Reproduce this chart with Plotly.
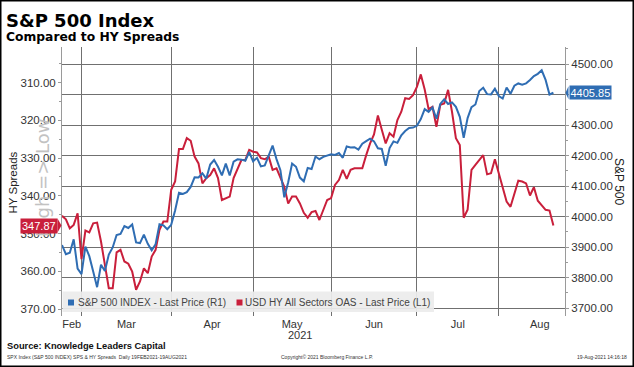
import plotly.graph_objects as go
import pandas as pd

# ---------------- data ----------------
DATES = pd.bdate_range("2021-02-19", "2021-08-19", freq="C",
                       holidays=["2021-04-02", "2021-05-31", "2021-07-05"])

SPX = [
    # Feb
    3906.71, 3876.50, 3881.37, 3925.43, 3829.34, 3811.15,
    # Mar
    3901.82, 3870.29, 3819.72, 3768.47, 3841.94, 3821.35, 3875.44, 3898.81,
    3939.34, 3943.34, 3968.94, 3962.71, 3974.12, 3915.46, 3913.10, 3940.59,
    3910.52, 3889.14, 3909.52, 3974.54, 3971.09, 3958.55, 3972.89,
    # Apr
    4019.87, 4077.91, 4073.94, 4079.95, 4097.17, 4128.80, 4127.99, 4141.59,
    4124.66, 4170.42, 4185.47, 4163.26, 4134.94, 4173.42, 4134.98, 4180.17,
    4187.62, 4186.72, 4183.18, 4211.47, 4181.17,
    # May
    4192.66, 4164.66, 4167.59, 4201.62, 4232.60, 4188.43, 4152.10, 4063.04,
    4112.50, 4173.85, 4163.29, 4127.83, 4115.68, 4159.12, 4155.86, 4197.05,
    4188.13, 4195.99, 4200.88, 4204.11,
    # Jun
    4202.04, 4208.12, 4192.85, 4229.89, 4226.52, 4227.26, 4219.55, 4239.18,
    4247.44, 4255.15, 4246.59, 4223.70, 4221.86, 4166.45, 4224.79, 4246.44,
    4241.84, 4266.49, 4280.70, 4290.61, 4291.80, 4297.50,
    # Jul
    4319.94, 4352.34, 4343.54, 4358.13, 4320.82, 4369.55, 4384.63, 4369.21,
    4374.30, 4360.03, 4327.16, 4258.49, 4323.06, 4358.69, 4367.48, 4411.79,
    4422.30, 4401.46, 4400.64, 4419.15, 4395.26,
    # Aug
    4387.16, 4423.15, 4402.66, 4429.10, 4436.52, 4432.35, 4436.75, 4447.70,
    4460.83, 4468.00, 4479.71, 4448.08, 4400.27, 4405.85,
]

HY_OAS = [
    # Feb
    345.3, 346.2, 348.6, 347.7, 344.6, 356.8,
    # Mar
    349.2, 349.7, 347.3, 347.1, 352.1, 358.8, 364.5, 364.5, 355.0, 354.3,
    357.4, 358.0, 360.1, 364.9, 362.7, 359.2, 360.5, 356.1, 354.3, 349.0,
    346.8, 346.8, 338.4,
    # Apr
    336.2, 327.6, 327.6, 324.7, 325.4, 329.6, 331.4, 336.7, 335.3, 334.5,
    332.7, 335.3, 341.1, 340.6, 340.2, 335.3, 333.1, 330.5, 330.5, 327.8,
    328.3,
    # May
    328.5, 330.0, 330.3, 329.6, 333.1, 332.7, 335.3, 337.6, 342.0, 340.2,
    340.2, 342.0, 344.5, 345.8, 344.3, 344.0, 346.4, 343.7, 341.1, 340.6,
    # Jun
    337.1, 335.8, 333.1, 335.5, 333.1, 332.7, 332.7, 332.7, 329.2, 326.1,
    323.7, 318.7, 322.5, 326.1, 323.4, 324.3, 319.9, 317.7, 314.1, 314.3,
    313.3, 311.1,
    # Jul
    307.8, 311.8, 317.0, 316.4, 321.7, 315.9, 315.5, 311.9, 317.7, 324.7,
    326.5, 345.8, 343.7, 333.1, 331.8, 330.5, 329.2, 334.3, 334.0, 330.3,
    334.0,
    # Aug
    338.0, 341.5, 342.9, 339.3, 336.0, 336.2, 336.7, 339.9, 337.7, 341.3,
    342.6, 343.7, 343.9, 347.87,
]

MONTH_LABELS = ["Feb", "Mar", "Apr", "May", "Jun", "Jul", "Aug"]
LEFT_TICKS = [310, 320, 330, 340, 350, 360, 370]
RIGHT_TICKS = [3700, 3800, 3900, 4000, 4100, 4200, 4300, 4400, 4500]

SPX_NAME = "S&P 500 INDEX - Last Price (R1)"
HY_NAME = "USD HY All Sectors OAS - Last Price (L1)"

assert len(DATES) == len(SPX) == len(HY_OAS)

# ---------------- layout helpers (pixel geometry) ----------------
W, H = 634, 367
PL, PR, PT, PB = 62, 565, 47, 316          # plot area in px
PX_PER_DAY = 3.9

def px(xp):
    return (xp - PL) / (PR - PL)

def py(yp):
    return (PB - yp) / (PB - PT)

BLUE = "#2f6db3"
RED = "#c91f3b"
GRID = "#707070"
AXIS = "#9a9a9a"
TXT = "#333333"

n = len(DATES)
xi = list(range(n))
months = list(DATES.month)
bounds = [i - 1 for i in range(1, n) if months[i] != months[i - 1]]
edges = [0] + bounds
label_pos = []
for k in range(len(edges)):
    if k + 1 < len(edges):
        label_pos.append((edges[k] + edges[k + 1]) / 2)
    else:
        label_pos.append(edges[k] + 10.5)

left_rng = [371.85, 300.54]
right_rng = [3674, 4556]

last_hy = HY_OAS[-1]
last_spx = SPX[-1]

fig = go.Figure()
fig.add_trace(go.Scatter(
    x=xi, y=HY_OAS, mode="lines", name=HY_NAME, yaxis="y",
    line=dict(color=RED, width=2), customdata=[d.strftime("%d-%b-%Y") for d in DATES],
    hovertemplate="%{customdata}: %{y:.2f}<extra></extra>", showlegend=False))
fig.add_trace(go.Scatter(
    x=xi, y=SPX, mode="lines", name=SPX_NAME, yaxis="y2",
    line=dict(color=BLUE, width=2), customdata=[d.strftime("%d-%b-%Y") for d in DATES],
    hovertemplate="%{customdata}: %{y:.2f}<extra></extra>", showlegend=False))

left_minor = [v + 5 for v in LEFT_TICKS[:-1]] + [305]
right_minor = [v + 50 for v in RIGHT_TICKS[:-1]] + [4550]
# the last-value tag hides the tick label it sits on
right_text = ["" if abs(v - last_spx) < 30 else f"{v:.2f}" for v in RIGHT_TICKS]

fig.update_layout(
    width=W, height=H,
    margin=dict(l=PL, r=W - PR, t=PT, b=H - PB, pad=0),
    paper_bgcolor="white", plot_bgcolor="white",
    showlegend=False,
    font=dict(family="Liberation Sans", size=11, color=TXT),
    xaxis=dict(
        range=[0, (PR - PL) / PX_PER_DAY],
        tickmode="array", tickvals=label_pos, ticktext=MONTH_LABELS,
        ticks="", showgrid=False, zeroline=False, showline=False,
        tickfont=dict(family="Liberation Sans", size=11, color=TXT),
        minor=dict(tickmode="array", tickvals=bounds, showgrid=True,
                   gridcolor=GRID, gridwidth=1.3, ticks=""),
    ),
    yaxis=dict(
        range=left_rng, tickmode="array", tickvals=LEFT_TICKS, tickformat=".2f",
        ticks="outside", ticklen=3, tickcolor=AXIS, tickwidth=1,
        showline=True, linecolor=AXIS, linewidth=1,
        showgrid=False, zeroline=False,
        tickfont=dict(family="Liberation Sans", size=11.5, color=TXT),
        minor=dict(tickmode="array", tickvals=left_minor, ticks="outside",
                   ticklen=2, tickcolor=AXIS, showgrid=False),
    ),
    yaxis2=dict(
        range=right_rng, overlaying="y", side="right",
        tickmode="array", tickvals=RIGHT_TICKS, ticktext=right_text,
        ticks="outside", ticklen=3, tickcolor=AXIS, tickwidth=1,
        showline=True, linecolor=AXIS, linewidth=1,
        showgrid=True, gridcolor=GRID, gridwidth=1.3, zeroline=False,
        tickfont=dict(family="Liberation Sans", size=11.5, color=TXT),
        minor=dict(tickmode="array", tickvals=right_minor, ticks="outside",
                   ticklen=2, tickcolor=AXIS, showgrid=False),
    ),
)

def y_left_px(v):
    return PT + (v - left_rng[1]) / (left_rng[0] - left_rng[1]) * (PB - PT)

def y_right_px(v):
    return PB - (v - right_rng[0]) / (right_rng[1] - right_rng[0]) * (PB - PT)

yr = y_left_px(last_hy)
yb = y_right_px(last_spx)

shapes = []
# outer frame
shapes.append(dict(type="rect", xref="paper", yref="paper",
                   x0=px(0.75), x1=px(633.25), y0=py(366.25), y1=py(0.75),
                   line=dict(color="black", width=1.5), fillcolor="rgba(0,0,0,0)",
                   layer="above"))
# legend box
shapes.append(dict(type="rect", xref="paper", yref="paper",
                   x0=px(62.5), x1=px(434), y0=py(312), y1=py(291.5),
                   line=dict(width=0), fillcolor="rgba(236,236,236,0.93)",
                   layer="above"))
# legend squares
for cx, col in ((71, BLUE), (239.5, RED)):
    shapes.append(dict(type="rect", xref="paper", yref="paper",
                       x0=px(cx - 3), x1=px(cx + 3), y0=py(302.5 + 3), y1=py(302.5 - 3),
                       line=dict(width=0), fillcolor=col, layer="above"))
# value-label pointers
shapes.append(dict(type="path", xref="paper", yref="paper",
                   path=f"M {px(57.5)} {py(yr - 7)} L {px(61.5)} {py(yr)} L {px(57.5)} {py(yr + 7)} Z",
                   fillcolor=RED, line=dict(width=0), layer="above"))
shapes.append(dict(type="path", xref="paper", yref="paper",
                   path=f"M {px(568.5)} {py(yb - 6.5)} L {px(565.5)} {py(yb)} L {px(568.5)} {py(yb + 6.5)} Z",
                   fillcolor=BLUE, line=dict(width=0), layer="above"))
fig.update_layout(shapes=shapes)

ann = []
def A(text, x, y, size, color=TXT, family="Liberation Sans", xanchor="left",
      yanchor="middle", angle=0, **kw):
    ann.append(dict(text=text, x=px(x), y=py(y), xref="paper", yref="paper",
                    showarrow=False, xanchor=xanchor, yanchor=yanchor,
                    textangle=angle,
                    font=dict(family=family, size=size, color=color), **kw))

A("<b>S&P 500 Index</b>", 4, 21, 18, color="black", family="DejaVu Sans")
A("<b>Compared to HY Spreads</b>", 4, 37, 12.3, color="black", family="DejaVu Sans")
A("HY Spreads", 12.5, 183, 11.5, color="#222222", xanchor="center", angle=-90)
A("S&P 500", 619, 181, 12, color="#222222", xanchor="center", angle=90)
A("High => Low", 42, 178, 18, color="#c2c2c2", family="DejaVu Sans",
  xanchor="center", angle=-90)
A(f"{last_hy:.2f}", 57.5, yr, 11, color="white", xanchor="right",
  bgcolor=RED, borderpad=1)
A(f"{last_spx:.2f}", 568.5, yb, 11, color="white", xanchor="left",
  bgcolor=BLUE, borderpad=0.5)
A(SPX_NAME, 75.5, 302.5, 10, color="#444444")
A(HY_NAME, 243, 302.5, 10, color="#444444")
A("2021", 300, 335, 11, xanchor="center")
A("<b>Source: Knowledge Leaders Capital</b>", 5, 345.5, 9.3, color="#111111")
A("SPX Index (S&P 500 INDEX) SPS &amp; HY Spreads&nbsp;&nbsp;Daily 19FEB2021-19AUG2021",
  5, 357.5, 5, color="#333333")
A("Copyright© 2021 Bloomberg Finance L.P.", 327, 357.5, 5, color="#333333",
  xanchor="center")
A("19-Aug-2021 14:16:18", 629, 357.5, 5, color="#333333", xanchor="right")
fig.update_layout(annotations=ann)

fig.write_html("out.html",
               config={"displayModeBar": False},
               post_script="document.body.style.margin='0';document.body.style.padding='0';")
